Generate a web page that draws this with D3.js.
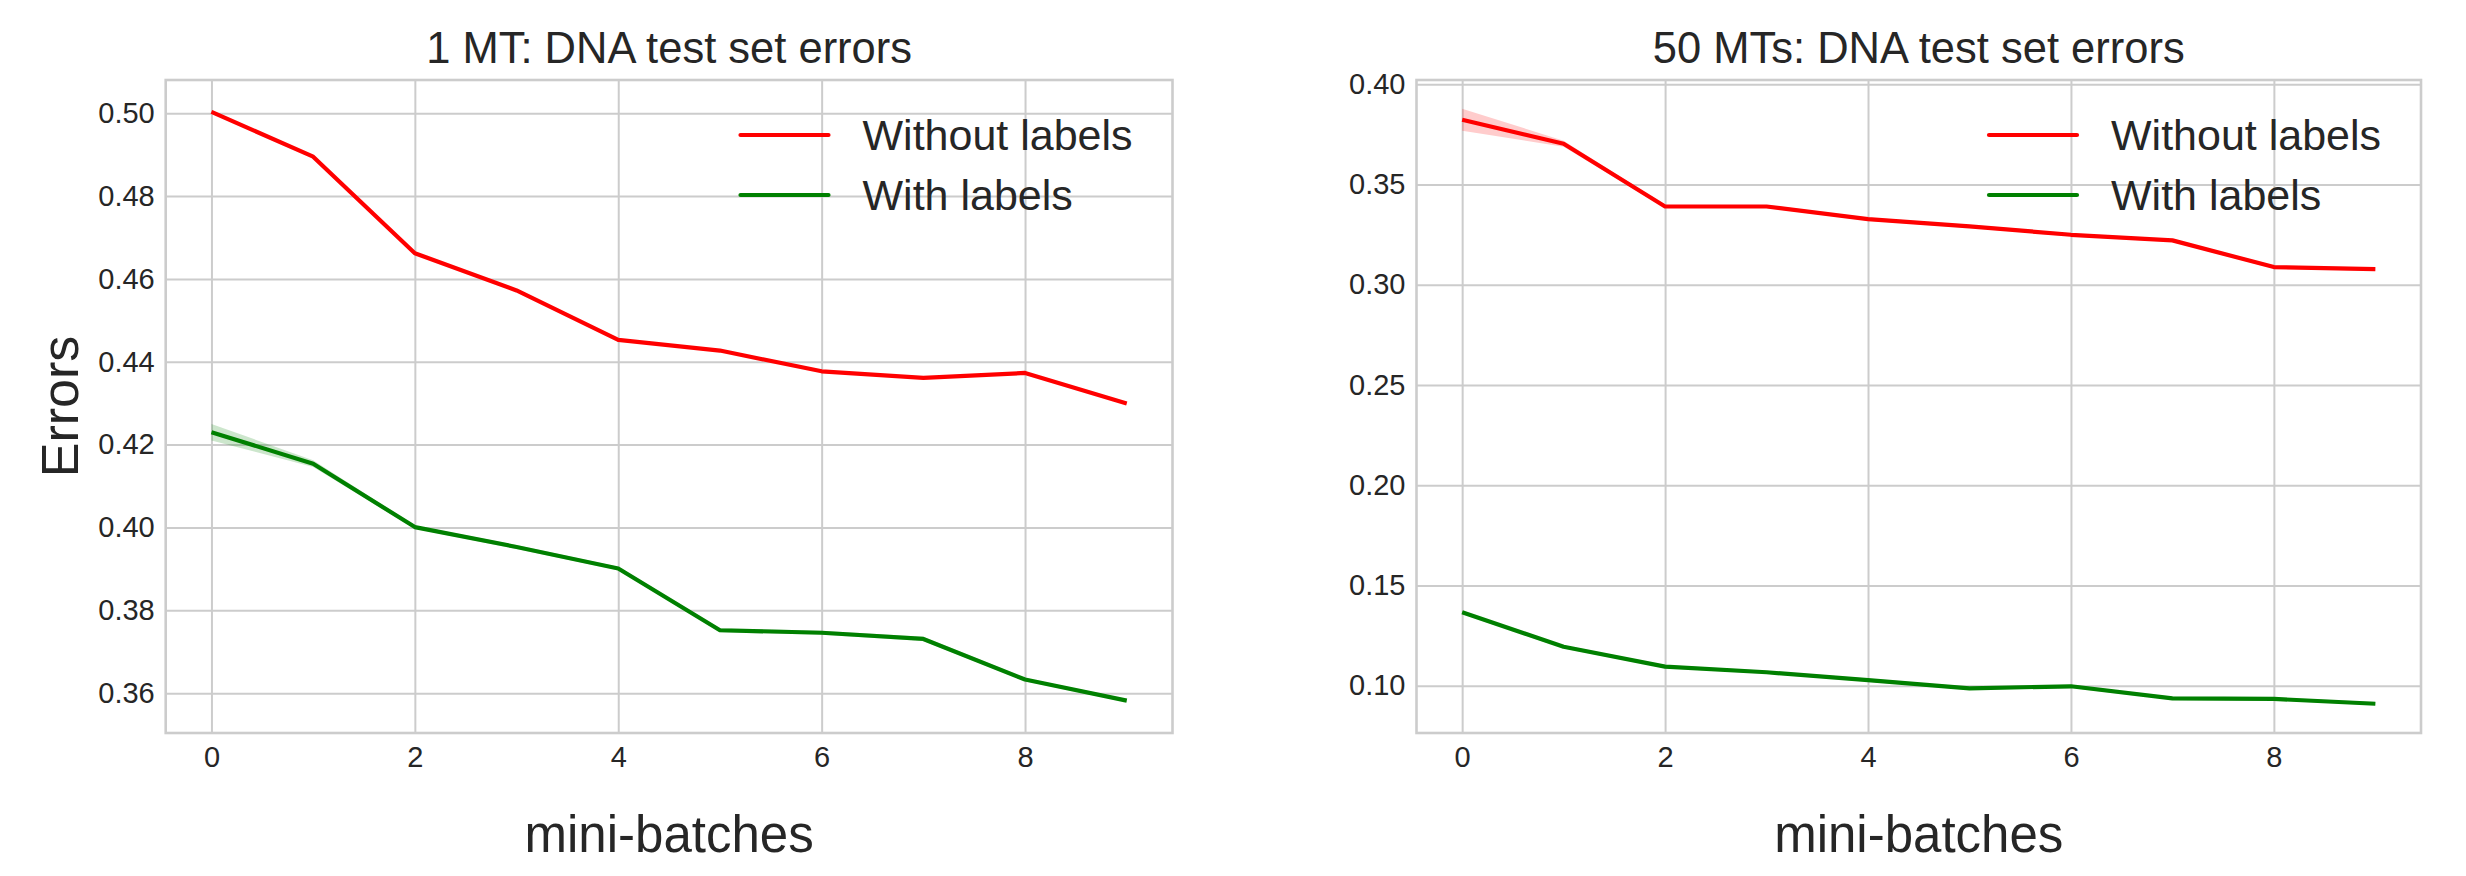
<!DOCTYPE html>
<html>
<head>
<meta charset="utf-8">
<script src="https://cdn.jsdelivr.net/npm/d3@7"></script>
<style>
  html, body { margin: 0; padding: 0; background: #ffffff; }
  svg text { font-family: "Liberation Sans", Arial, Helvetica, sans-serif; fill: #262626; }
</style>
</head>
<body>
<svg id="chart" width="2466" height="876"></svg>
<script>
// ---------- data ----------
const batches = [0, 1, 2, 3, 4, 5, 6, 7, 8, 9];
const xTicks = [0, 2, 4, 6, 8];
const seriesNames = ["Without labels", "With labels"];

const titles = ["1 MT: DNA test set errors", "50 MTs: DNA test set errors"];

// 1 MT
const mt1Without = [0.5003, 0.4895, 0.4662, 0.4572, 0.4453, 0.4427, 0.4377, 0.4361, 0.4373, 0.4299];
const mt1WithoutErr = [0.0004, 0.0003, 0.0003, 0.0003, 0.0003, 0.0003, 0.0003, 0.0003, 0.0003, 0.0003];
const mt1With = [0.4230, 0.4154, 0.4001, 0.3953, 0.3901, 0.3752, 0.3746, 0.3731, 0.3633, 0.3582];
const mt1WithErr = [0.0020, 0.0008, 0.0004, 0.0005, 0.0004, 0.0005, 0.0005, 0.0005, 0.0004, 0.0004];
const mt1YTicks = [0.36, 0.38, 0.40, 0.42, 0.44, 0.46, 0.48, 0.50];
const mt1YDomain = [0.3504, 0.5080];

// 50 MTs
const mt50Without = [0.3823, 0.3703, 0.3390, 0.3390, 0.3327, 0.3291, 0.3249, 0.3221, 0.3088, 0.3078];
const mt50WithoutErr = [0.0055, 0.0015, 0.0008, 0.0008, 0.0008, 0.0008, 0.0008, 0.0008, 0.0008, 0.0008];
const mt50With = [0.1366, 0.1194, 0.1095, 0.1067, 0.1028, 0.0987, 0.0997, 0.0937, 0.0934, 0.0910];
const mt50WithErr = [0.0008, 0.0008, 0.0008, 0.0008, 0.0008, 0.0008, 0.0008, 0.0008, 0.0008, 0.0008];
const mt50YTicks = [0.10, 0.15, 0.20, 0.25, 0.30, 0.35, 0.40];
const mt50YDomain = [0.0764, 0.4021];

const xDomain = [-0.45, 9.45];
const colors = ["#ff0000", "#008000"];

// ---------- drawing ----------
const svg = d3.select("#chart");
const TOP = 80, BOTTOM = 733;
const gridColor = "#cccccc";

function drawPanel(opts) {
  const { left, right, title, series, errs, yTicks, yDomain, yLabel } = opts;
  const x = d3.scaleLinear().domain(xDomain).range([left, right]);
  const y = d3.scaleLinear().domain(yDomain).range([BOTTOM, TOP]);
  const g = svg.append("g");

  // grid
  const yAxisGrid = d3.axisLeft(y).tickValues(yTicks).tickSize(-(right - left)).tickFormat("");
  g.append("g").attr("transform", `translate(${left},0)`).call(yAxisGrid)
    .call(s => s.select(".domain").remove())
    .call(s => s.selectAll("line").attr("stroke", gridColor).attr("stroke-width", 2));
  const xAxisGrid = d3.axisBottom(x).tickValues(xTicks).tickSize(-(BOTTOM - TOP)).tickFormat("");
  g.append("g").attr("transform", `translate(0,${BOTTOM})`).call(xAxisGrid)
    .call(s => s.select(".domain").remove())
    .call(s => s.selectAll("line").attr("stroke", gridColor).attr("stroke-width", 2));

  // tick labels
  const yAxis = d3.axisLeft(y).tickValues(yTicks).tickSize(0).tickPadding(11).tickFormat(d3.format(".2f"));
  g.append("g").attr("transform", `translate(${left},0)`).call(yAxis)
    .call(s => s.select(".domain").remove())
    .call(s => s.selectAll("text").attr("font-size", 29).attr("fill", "#262626")
      .style("font-family", '"Liberation Sans", Arial, sans-serif'));
  const xAxis = d3.axisBottom(x).tickValues(xTicks).tickSize(0).tickPadding(13).tickFormat(d3.format("d"));
  g.append("g").attr("transform", `translate(0,${BOTTOM})`).call(xAxis)
    .call(s => s.select(".domain").remove())
    .call(s => s.selectAll("text").attr("font-size", 29).attr("fill", "#262626")
      .style("font-family", '"Liberation Sans", Arial, sans-serif'));

  // bands and lines
  series.forEach((vals, i) => {
    const pts = batches.map((b, j) => ({ b, v: vals[j], e: errs[i][j] }));
    const area = d3.area().x(d => x(d.b)).y0(d => y(d.v - d.e)).y1(d => y(d.v + d.e));
    g.append("path").datum(pts).attr("d", area)
      .attr("fill", colors[i]).attr("fill-opacity", 0.2).attr("stroke", "none");
    const line = d3.line().x(d => x(d.b)).y(d => y(d.v));
    g.append("path").datum(pts).attr("d", line)
      .attr("fill", "none").attr("stroke", colors[i]).attr("stroke-width", 4.2)
      .attr("stroke-linejoin", "round");
  });

  // spines
  g.append("rect").attr("x", left).attr("y", TOP).attr("width", right - left).attr("height", BOTTOM - TOP)
    .attr("fill", "none").attr("stroke", gridColor).attr("stroke-width", 2.6);

  // title
  g.append("text").attr("x", (left + right) / 2).attr("y", 63)
    .attr("text-anchor", "middle").attr("font-size", 43.5).text(title);

  // x label
  g.append("text").attr("x", (left + right) / 2).attr("y", 852)
    .attr("text-anchor", "middle").attr("font-size", 51).text("mini-batches");

  // y label
  if (yLabel) {
    g.append("text").attr("transform", `translate(78,${(TOP + BOTTOM) / 2}) rotate(-90)`)
      .attr("text-anchor", "middle").attr("font-size", 52).text(yLabel);
  }

  // legend
  seriesNames.forEach((name, i) => {
    const ly = 135 + i * 60;
    g.append("line").attr("x1", right - 432).attr("x2", right - 344)
      .attr("y1", ly).attr("y2", ly)
      .attr("stroke", colors[i]).attr("stroke-width", 4.2).attr("stroke-linecap", "round");
    g.append("text").attr("x", right - 310).attr("y", ly + 15)
      .attr("font-size", 43).text(name);
  });
}

drawPanel({
  left: 165.7, right: 1172.5, title: titles[0],
  series: [mt1Without, mt1With], errs: [mt1WithoutErr, mt1WithErr],
  yTicks: mt1YTicks, yDomain: mt1YDomain, yLabel: "Errors"
});
drawPanel({
  left: 1416.5, right: 2421, title: titles[1],
  series: [mt50Without, mt50With], errs: [mt50WithoutErr, mt50WithErr],
  yTicks: mt50YTicks, yDomain: mt50YDomain, yLabel: null
});
</script>
</body>
</html>
